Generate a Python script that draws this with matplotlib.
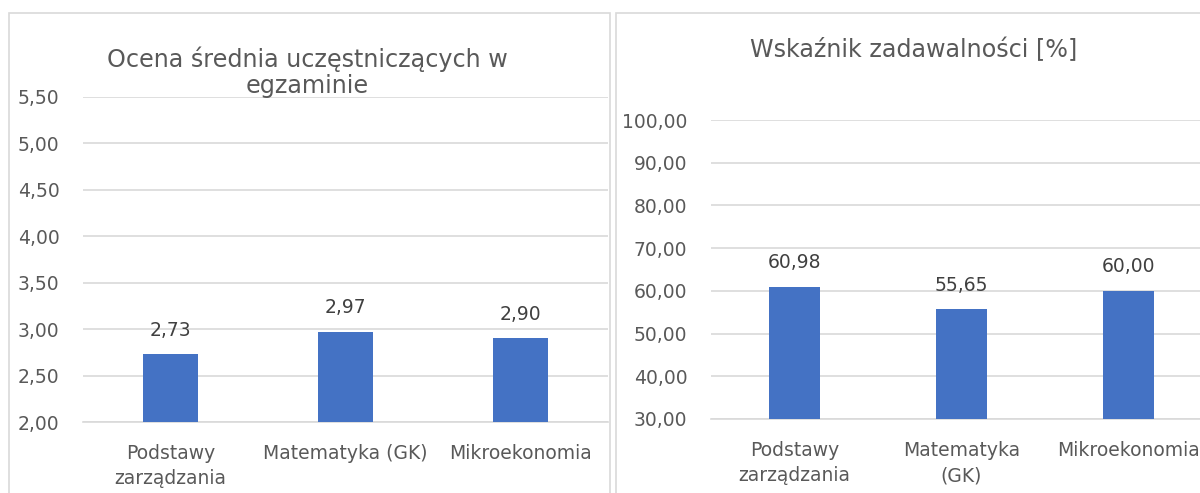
import matplotlib
matplotlib.use("Agg")
import matplotlib.pyplot as plt
from matplotlib.patches import Rectangle

plt.rcParams['font.family'] = ['DejaVu Sans']

left_title = "Ocena średnia uczęstniczących w\negzaminie"
left_categories = ["Podstawy\nzarządzania", "Matematyka (GK)", "Mikroekonomia"]
left_values = [2.73, 2.97, 2.90]
left_ticks = [2.0, 2.5, 3.0, 3.5, 4.0, 4.5, 5.0, 5.5]

right_title = "Wskaźnik zadawalności [%]"
right_categories = ["Podstawy\nzarządzania", "Matematyka\n(GK)", "Mikroekonomia"]
right_values = [60.98, 55.65, 60.00]
right_ticks = [30, 40, 50, 60, 70, 80, 90, 100]

W, H = 1200, 493
BAR = '#4472C4'
GRID = '#D9D9D9'
TXT = '#595959'
LBL = '#404040'

fig = plt.figure(figsize=(W / 100, H / 100), dpi=100)

def px_rect(x0, y0, x1, y1):
    return [x0 / W, 1 - y1 / H, (x1 - x0) / W, (y1 - y0) / H]

# chart borders
for (x0, y0, x1, y1) in [(9, 13, 610, 500), (616, 13, 1260, 500)]:
    fig.patches.append(Rectangle((x0 / W, 1 - y1 / H), (x1 - x0) / W, (y1 - y0) / H,
                                 transform=fig.transFigure, fill=False,
                                 edgecolor=GRID, linewidth=1.2))

def fmt(v):
    return f"{v:.2f}".replace('.', ',')

def draw(ax, cats, vals, ticks, width, fs):
    x = list(range(len(cats)))
    ax.bar(x, vals, width=width, color=BAR, zorder=3)
    ax.set_xlim(-0.5, len(cats) - 0.5)
    ax.set_ylim(ticks[0], ticks[-1])
    ax.set_yticks(ticks)
    ax.set_yticklabels([fmt(t) for t in ticks])
    ax.set_xticks(x)
    ax.set_xticklabels(cats, linespacing=1.4)
    ax.tick_params(axis='y', length=0, pad=17, labelsize=fs, labelcolor=TXT)
    ax.tick_params(axis='x', length=0, pad=16, labelsize=fs, labelcolor=TXT)
    ax.grid(axis='y', color=GRID, linewidth=1.2, zorder=0)
    for s in ax.spines.values():
        s.set_visible(False)
    ax.spines['bottom'].set_visible(True)
    ax.spines['bottom'].set_color(GRID)
    ax.spines['bottom'].set_linewidth(1.2)
    for xi, v in zip(x, vals):
        ax.annotate(fmt(v), (xi, v), xytext=(0, 10.5), textcoords='offset points',
                    ha='center', va='bottom', fontsize=fs, color=LBL)

ax1 = fig.add_axes(px_rect(83, 97, 608, 422))
draw(ax1, left_categories, left_values, left_ticks, 0.314, 13.5)
ax1.patch.set_alpha(0)

ax2 = fig.add_axes(px_rect(711, 120, 1212, 419))
draw(ax2, right_categories, right_values, right_ticks, 0.31, 13.5)
ax2.patch.set_alpha(0)

fig.text(307 / W, 1 - 72 / H, left_title, ha='center', va='center',
         fontsize=17.2, color=TXT, linespacing=1.1)
fig.text(914 / W, 1 - 50 / H, right_title, ha='center', va='center',
         fontsize=17.2, color=TXT)

fig.savefig('out.png', dpi=100)
